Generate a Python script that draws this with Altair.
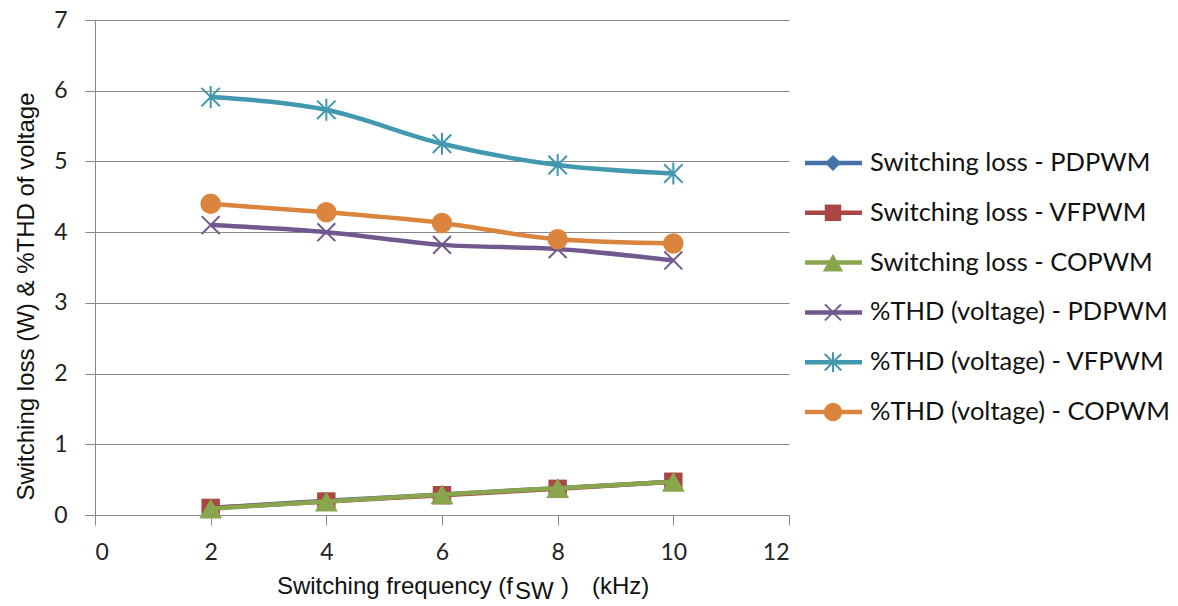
import altair as alt
import pandas as pd

# Switching frequency (kHz)
freq_khz = [2, 4, 6, 8, 10]

# Switching loss (W)
loss_pdpwm = [0.10, 0.20, 0.29, 0.38, 0.47]
loss_vfpwm = [0.10, 0.19, 0.28, 0.37, 0.47]
loss_copwm = [0.09, 0.19, 0.29, 0.38, 0.47]

# %THD of output voltage
thd_pdpwm = [4.10, 4.00, 3.82, 3.76, 3.60]
thd_vfpwm = [5.91, 5.73, 5.25, 4.95, 4.83]
thd_copwm = [4.40, 4.28, 4.13, 3.90, 3.84]

series_names = [
    "Switching loss - PDPWM",
    "Switching loss - VFPWM",
    "Switching loss - COPWM",
    "%THD (voltage) - PDPWM",
    "%THD (voltage) - VFPWM",
    "%THD (voltage) - COPWM",
]
series_values = [loss_pdpwm, loss_vfpwm, loss_copwm, thd_pdpwm, thd_vfpwm, thd_copwm]
series_colors = ["#4572A7", "#AA4643", "#89A54E", "#71588F", "#4198AF", "#DB843D"]

X_PATH = "M-1,-1L1,1M-1,1L1,-1"
STAR_PATH = "M-1,-1L1,1M-1,1L1,-1M0,-1.2L0,1.2"
# (shape, filled, size, strokeWidth)
series_markers = [
    ("diamond", True, 330, 0),
    ("square", True, 340, 0),
    ("triangle-up", True, 520, 0),
    (X_PATH, False, 320, 2),
    (STAR_PATH, False, 340, 2),
    ("circle", True, 420, 0),
]

W, H = 694, 495
TICK_FONT = "Lato"
TITLE_FONT = "Liberation Sans"
GRID = "#898989"

x_enc = alt.X(
    "freq:Q",
    scale=alt.Scale(domain=[0, 12], nice=False, zero=False),
    axis=alt.Axis(
        values=[0, 2, 4, 6, 8, 10, 12], grid=False, title=None,
        domainColor=GRID, tickColor=GRID, tickSize=10, labelPadding=16,
        labelFont=TICK_FONT, labelFontSize=23, labelColor="#222222",
    ),
)
y_enc = alt.Y(
    "value:Q",
    scale=alt.Scale(domain=[0, 7], nice=False),
    axis=alt.Axis(
        values=list(range(8)), grid=True, gridColor=GRID, gridWidth=1,
        domainColor=GRID, tickColor=GRID, tickSize=10, labelPadding=18,
        labelFont=TICK_FONT, labelFontSize=23, labelColor="#222222",
        title="Switching loss (W) & %THD of voltage",
        titleFont=TITLE_FONT, titleFontSize=24, titleFontWeight="normal",
        titleColor="#111111", titleAngle=270, titleAlign="center",
        titleBaseline="alphabetic", titleX=-62, titleY=276,
    ),
)

layers = []
for name, vals, color, (shape, filled, size, sw) in zip(
    series_names, series_values, series_colors, series_markers
):
    df = pd.DataFrame({"freq": freq_khz, "value": vals, "series": name})
    base = alt.Chart(df).encode(x=x_enc, y=y_enc)
    line = base.mark_line(color=color, strokeWidth=4.5, interpolate="monotone")
    if filled:
        pts = base.mark_point(shape=shape, filled=True, color=color, size=size, opacity=1)
    else:
        pts = base.mark_point(shape=shape, filled=False, color=color, size=size,
                              strokeWidth=sw, opacity=1)
    layers += [line, pts]

main = alt.layer(*layers)

# Legend: line + marker + label per series
legend_df = pd.DataFrame({"series": series_names})
legend_y = alt.Y(
    "series:N",
    scale=alt.Scale(type="point", domain=series_names, range=[143, 392], padding=0),
    axis=None,
)
legend_layers = []
for name, color, (shape, filled, size, sw) in zip(series_names, series_colors, series_markers):
    lb = alt.Chart(legend_df).transform_filter(alt.datum.series == name)
    legend_layers.append(
        lb.mark_rule(color=color, strokeWidth=4.5).encode(
            x=alt.value(710), x2=alt.value(767), y=legend_y)
    )
    if filled:
        m = lb.mark_point(shape=shape, filled=True, color=color, size=size * 0.8, opacity=1)
    else:
        m = lb.mark_point(shape=shape, filled=False, color=color, size=size * 0.8,
                          strokeWidth=sw, opacity=1)
    legend_layers.append(m.encode(x=alt.value(738), y=legend_y))
legend_layers.append(
    alt.Chart(legend_df).mark_text(
        align="left", baseline="middle", font=TICK_FONT, fontSize=25.5, color="#111111"
    ).encode(x=alt.value(775), y=legend_y, text="series:N")
)
legend = alt.layer(*legend_layers)

# X axis title with subscript
one = pd.DataFrame({"k": [0]})


def title_piece(txt, x, y, size, align="left"):
    return alt.Chart(one).mark_text(
        text=txt, align=align, baseline="alphabetic",
        font=TITLE_FONT, fontSize=size, color="#111111",
    ).encode(x=alt.value(x), y=alt.value(y))


titles = alt.layer(
    title_piece("Switching frequency (f", 418, 574, 24, align="right"),
    title_piece("SW", 420, 579, 24),
    title_piece(")", 466, 574, 24),
    title_piece("(kHz)", 497, 574, 24),
)

chart = (
    alt.layer(main, legend, titles)
    .resolve_scale(y="independent")
    .properties(
        width=W, height=H,
        padding={"left": 95, "top": 20, "right": 1178 - 95 - W, "bottom": 606 - 20 - H},
        autosize=alt.AutoSizeParams(type="none"),
        background="white",
    )
    .configure_view(stroke=None)
)

chart.save("out.html", embed_options={"renderer": "svg", "actions": False})
